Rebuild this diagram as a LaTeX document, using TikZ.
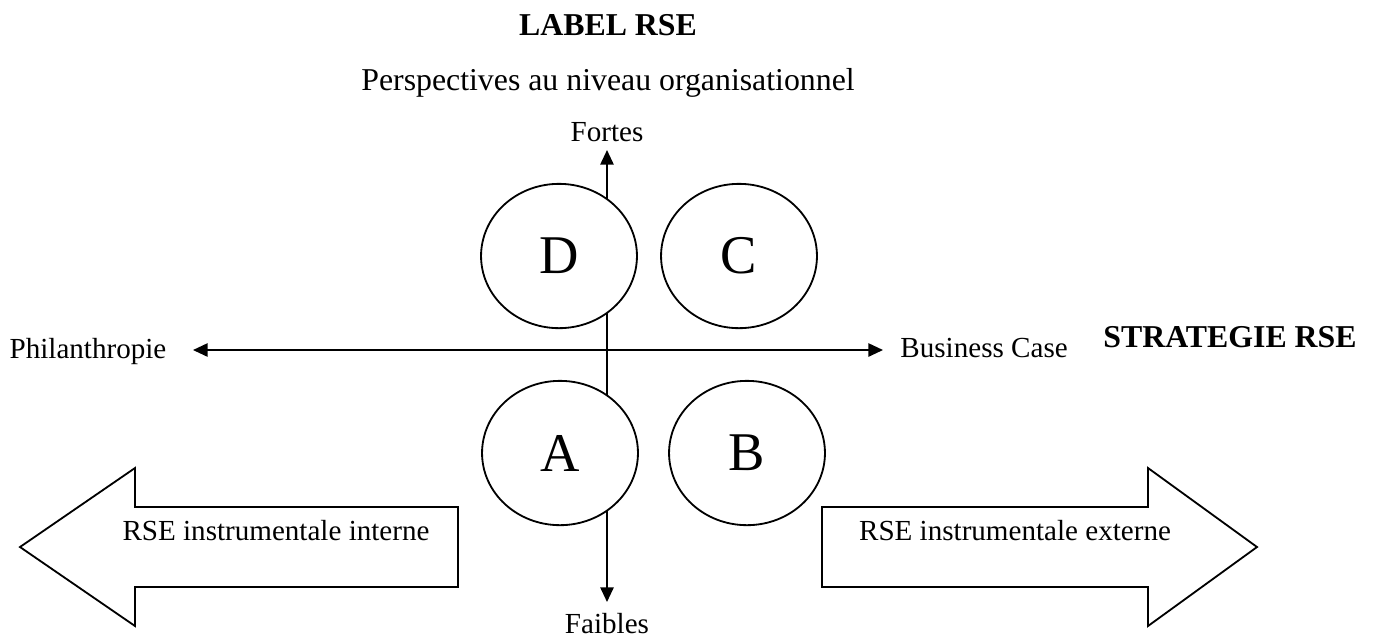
\documentclass[tikz,border=0pt]{standalone}
\usepackage{fontspec}
\setmainfont{Liberation Serif}
\usetikzlibrary{arrows.meta}
\usetikzlibrary{shapes.geometric}
\usetikzlibrary{positioning}
\tikzset{
    quad/.style={
           ellipse,
           draw=black, line width=0.8pt,
           fill=white,
           minimum width=68.6pt,
           minimum height=63.5pt,
           inner sep=0pt,
           font=\fontsize{24}{28}\selectfont,
           },
    axe/.style={
           line width=0.8pt,
           {Triangle[length=6.4pt,width=5.8pt]}-{Triangle[length=6.4pt,width=5.8pt]},
           },
    fleche/.style={
           draw=black, line width=0.8pt,
           },
    titre/.style={
           anchor=base,
           font=\fontsize{14}{17}\selectfont\bfseries,
           },
}

\begin{document}
\begin{tikzpicture}[x={(0.44pt,0)},y={(0,-0.44pt)},font=\fontsize{12.8}{15}\selectfont]
   \useasboundingbox (0,0) rectangle (1374,642);
   % titres
   \node[titre] (label) at (608,35) {LABEL RSE};
   \node[anchor=base,font=\fontsize{14}{17}\selectfont] (persp) at (608,90) {Perspectives au niveau organisationnel};
   \node[titre] (strat) at (1230,347) {STRATEGIE RSE};
   % axes
   \coordinate (haut) at (607,150);
   \coordinate (bas) at (607,602);
   \coordinate (gauche) at (193,350);
   \coordinate (droite) at (883,350);
   \draw[axe] (bas) -- (haut);
   \draw[axe] (gauche) -- (droite);
   \node (fortes) [above=0pt of haut] {Fortes};
   \node (faibles) [below=1.5pt of bas] {Faibles};
   \node[anchor=base] (philo) at (88,358) {Philanthropie};
   \node[anchor=base west,inner sep=0pt] (business) at (900,357) {Business Case};
   % quadrants
   \node[quad] (D) at (559,256) {D};
   \node[quad] (C) at (739,256) {C};
   \node[quad] (A) at (560,453) {A};
   \node[quad] (B) at (747,453) {B};
   % grosses fleches
   \draw[fleche] (458,507) -- (135,507) -- (135,468) -- (20,547)
       -- (135,626) -- (135,587) -- (458,587) -- cycle;
   \draw[fleche] (822,507) -- (1148,507) -- (1148,468) -- (1257,547)
       -- (1148,626) -- (1148,587) -- (822,587) -- cycle;
   \node[anchor=base] (interne) at (276,540) {RSE instrumentale interne};
   \node[anchor=base] (externe) at (1015,540) {RSE instrumentale externe};
\end{tikzpicture}
\end{document}
